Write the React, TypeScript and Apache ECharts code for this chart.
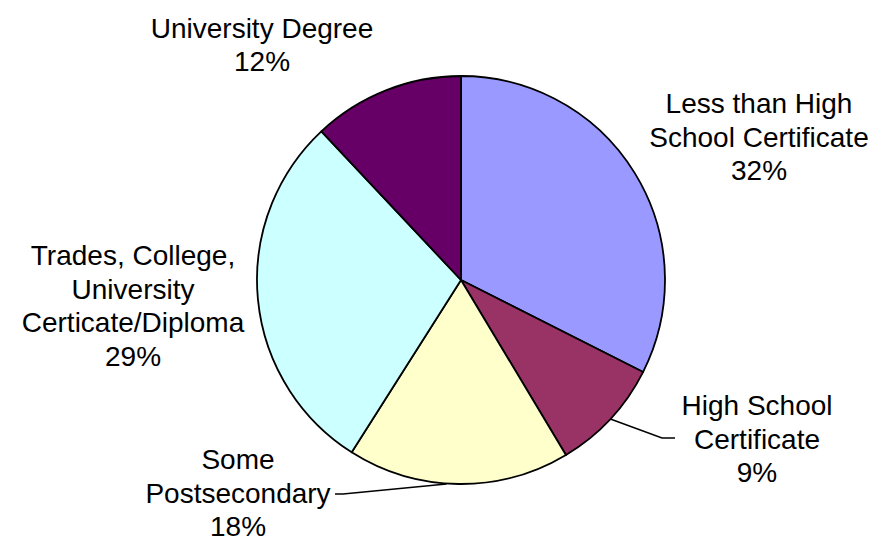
import React, { useEffect, useRef } from "react";
import * as echarts from "echarts";

// Data
const categories = [
  "Less than High School Certificate",
  "High School Certificate",
  "Some Postsecondary",
  "Trades, College, University Certicate/Diploma",
  "University Degree",
];
const labelTexts = [
  "Less than High\nSchool Certificate",
  "High School\nCertificate",
  "Some\nPostsecondary",
  "Trades, College,\nUniversity\nCerticate/Diploma",
  "University Degree",
];
const shares = [32.45, 8.95, 17.6, 29.0, 12.0];
const colors = ["#9999FF", "#993366", "#FFFFCC", "#CCFFFF", "#660066"];

// Layout (not data)
const CX = 461;
const CY = 280;
const R = 204;
const labelAnchors: number[][] = [
  [759, 137],
  [757, 439],
  [238, 493],
  [133, 306],
  [262, 45],
];
const hasLeader = [false, true, true, false, false];

export default function App() {
  const ref = useRef<HTMLDivElement>(null);

  useEffect(() => {
    if (!ref.current) return;
    const chart = echarts.init(ref.current, undefined, { renderer: "svg" });
    const total = shares.reduce((a, b) => a + b, 0);
    const cum: number[] = [];
    let acc = 0;
    shares.forEach((v) => {
      cum.push(acc);
      acc += v;
    });

    const data = categories.map((name, i) => ({
      name,
      value: shares[i],
      itemStyle: { color: colors[i] },
      labelLine: { show: hasLeader[i] },
    }));

    chart.setOption({
      animation: false,
      backgroundColor: "#ffffff",
      series: [
        {
          type: "pie",
          center: [CX, CY],
          radius: R,
          startAngle: 90,
          clockwise: true,
          percentPrecision: 0,
          avoidLabelOverlap: false,
          data,
          itemStyle: { borderColor: "#000", borderWidth: 1.8 },
          emphasis: { disabled: true },
          label: {
            show: true,
            position: "outside",
            color: "#000",
            fontFamily: "Liberation Sans, Arial, sans-serif",
            fontSize: 28,
            lineHeight: 33.5,
            align: "center",
            formatter: (p: any) => labelTexts[p.dataIndex] + "\n" + p.percent + "%",
          },
          labelLine: {
            show: true,
            length: 10,
            length2: 10,
            smooth: false,
            lineStyle: { color: "#000", width: 1.5 },
          },
          labelLayout: (params: any) => {
            const i = params.dataIndex;
            const [x, y] = labelAnchors[i];
            const out: any = { x, y, align: "center", verticalAlign: "middle" };
            if (hasLeader[i]) {
              const phi = ((cum[i] + shares[i] / 2) / total) * 2 * Math.PI;
              const sx = CX + R * Math.sin(phi);
              const sy = CY - R * Math.cos(phi);
              if (i === 1) {
                out.labelLinePoints = [
                  [sx, sy],
                  [x - 95, y - 1],
                  [x - 82, y - 1],
                ];
              } else {
                out.labelLinePoints = [
                  [sx - 12, sy],
                  [x + 105, y + 1],
                  [x + 97, y + 1],
                ];
              }
            }
            return out;
          },
        },
      ],
    });
    return () => chart.dispose();
  }, []);

  return (
    <div
      ref={ref}
      style={{ position: "absolute", left: 0, top: 0, width: 881, height: 542 }}
    />
  );
}
